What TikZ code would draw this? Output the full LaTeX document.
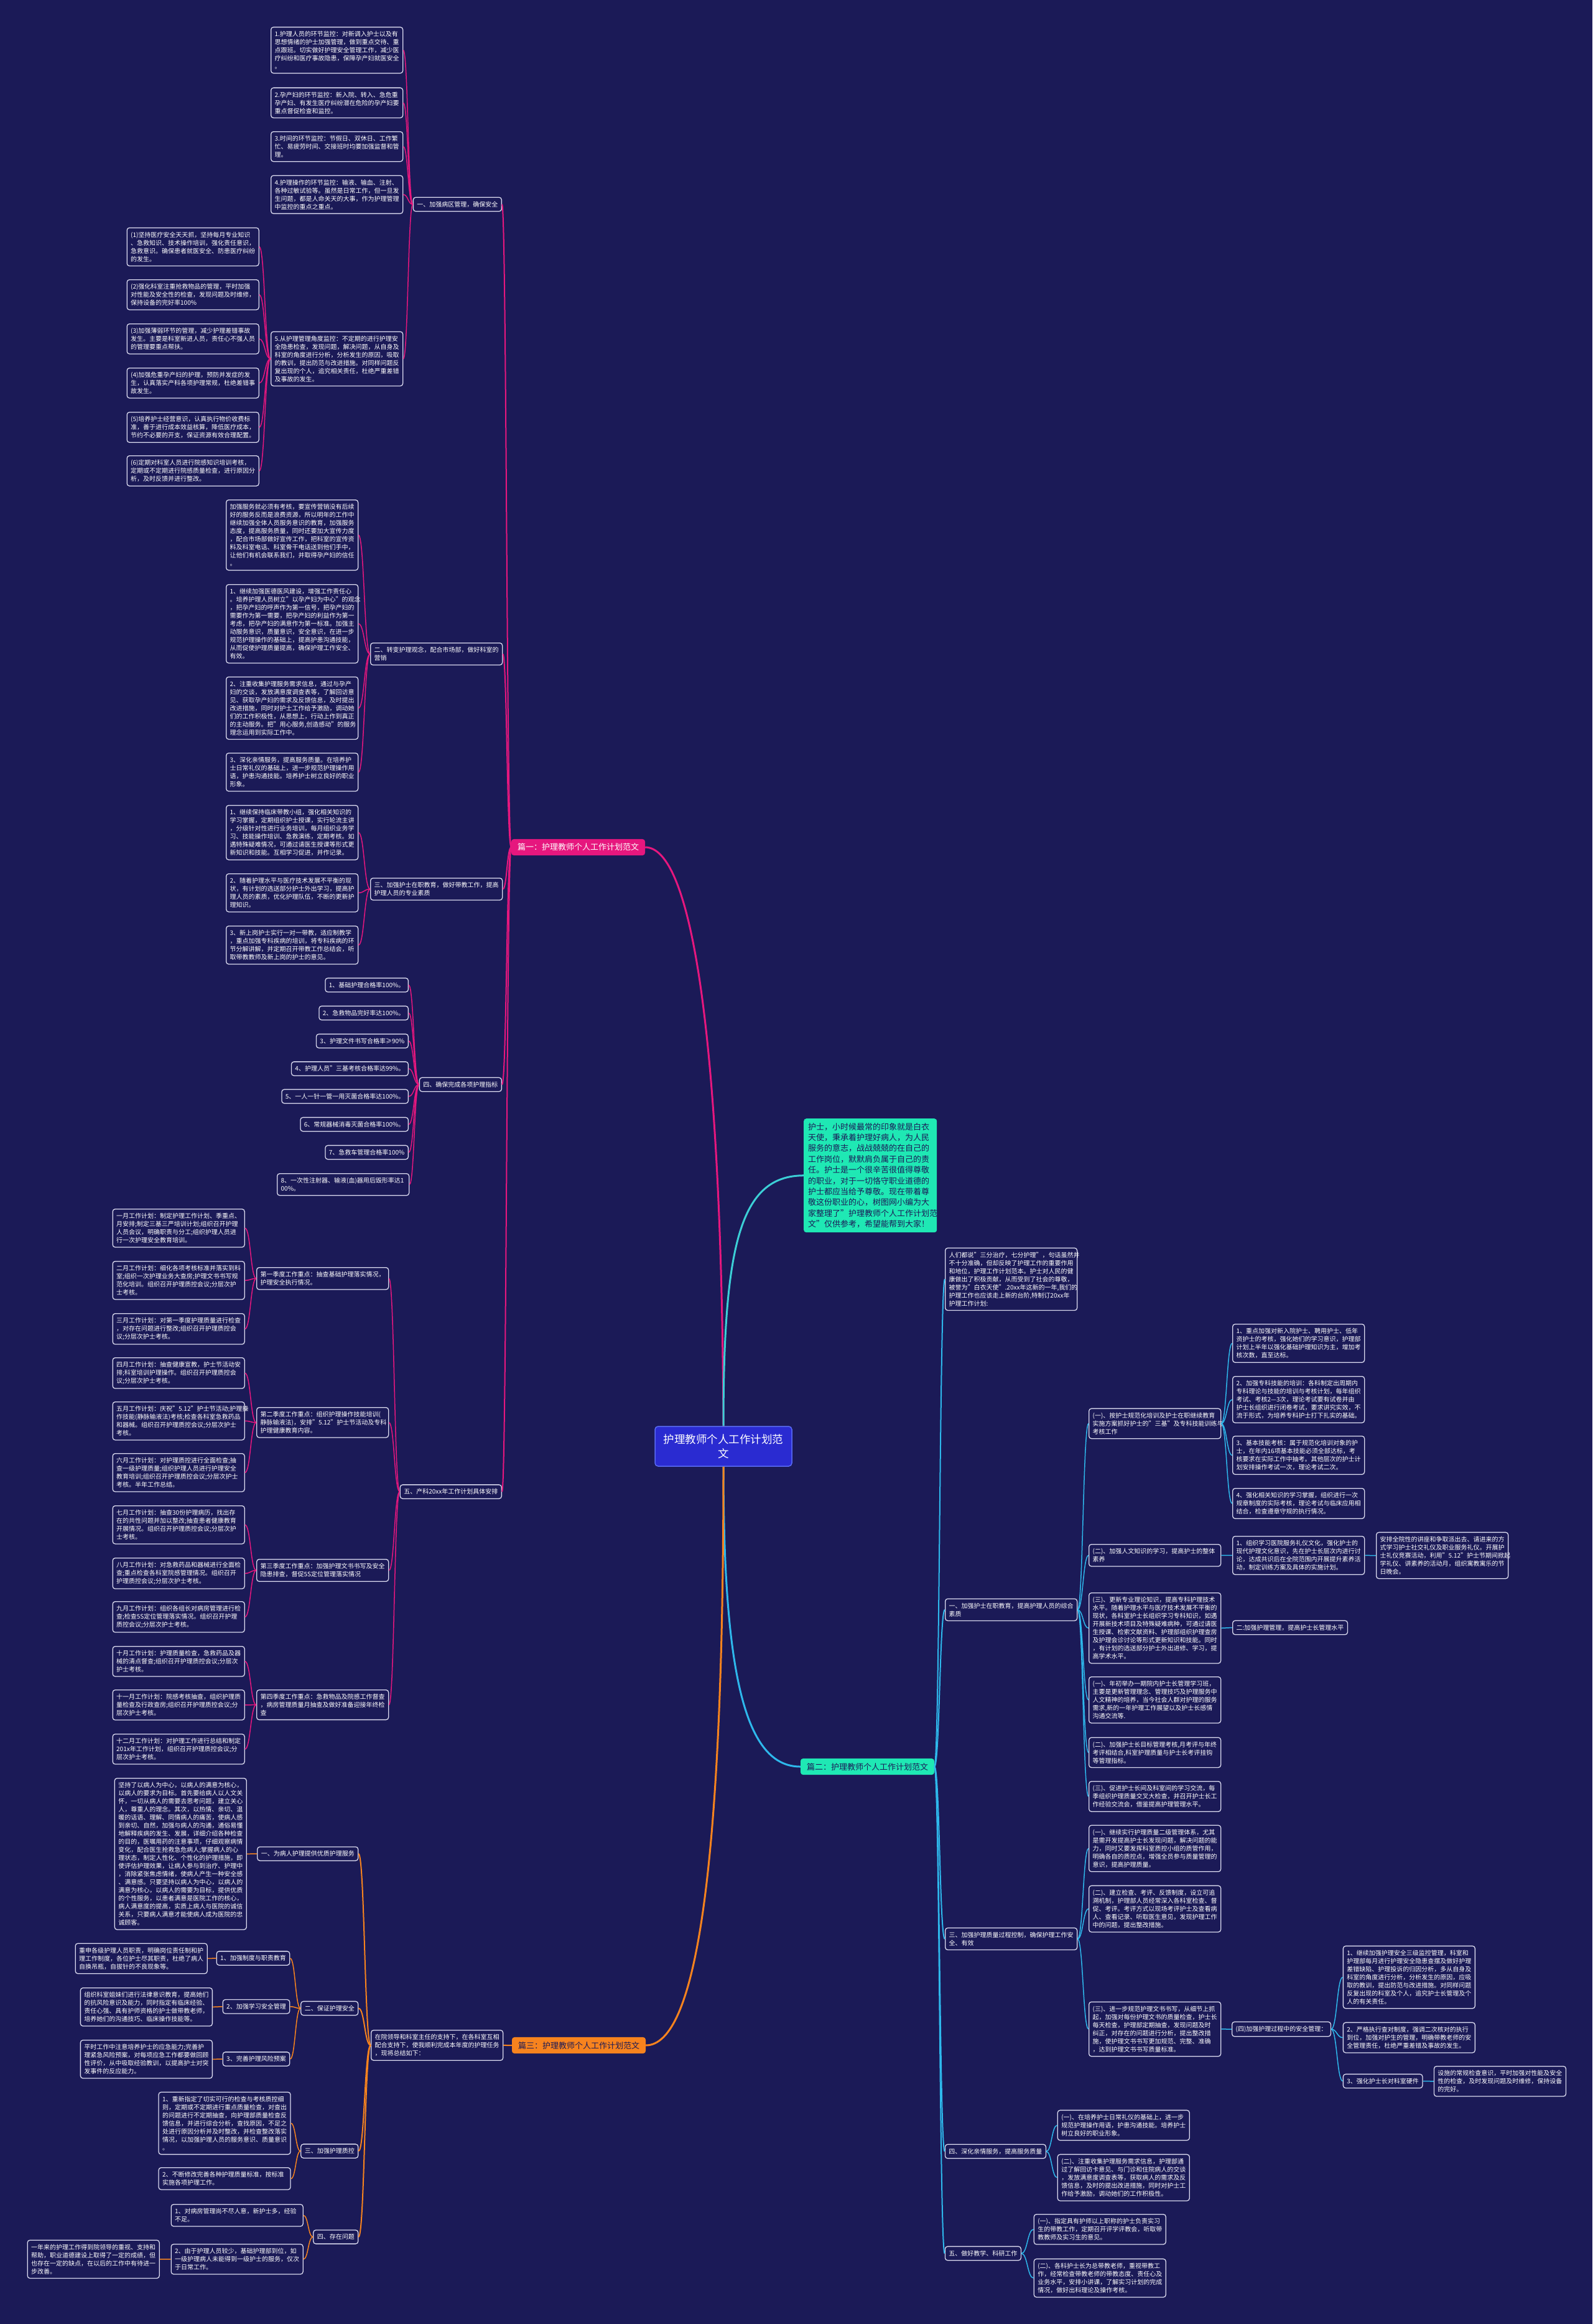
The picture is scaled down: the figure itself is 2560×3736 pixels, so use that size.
\documentclass[tikz,border=0pt]{standalone}
\usepackage{fontspec}
\setmainfont{Noto Sans CJK SC}
\usetikzlibrary{calc}

\definecolor{bg}{HTML}{1B1A57}
\definecolor{boxline}{HTML}{D9D9EE}
\definecolor{pinkc}{HTML}{E6177E}
\definecolor{cyanc}{HTML}{2EB8EC}
\definecolor{tealc}{HTML}{3CCFD6}
\definecolor{tealfill}{HTML}{1FE8B4}
\definecolor{orangec}{HTML}{F7831E}
\definecolor{rootfill}{HTML}{2A2BD1}
\definecolor{rootline}{HTML}{5B6CF5}

\begin{document}
\begin{tikzpicture}[
    x=1pt, y=-1pt,
    lnk/.style={to path={let \p1=(\tikztostart), \p2=(\tikztotarget) in
        .. controls ({(\x1+\x2)/2},\y1) and ({(\x1+\x2)/2},\y2) .. (\tikztotarget)}},
    box/.style={draw=boxline, line width=1.3pt, rounded corners=4pt, fill=bg, text=white,
        font=\fontsize{10}{13}\selectfont, inner xsep=6pt, inner ysep=6.5pt,
        align=left, text width=200pt, anchor=north west},
    tag/.style={draw=boxline, line width=1.3pt, rounded corners=4pt, fill=bg, text=white,
        font=\fontsize{10}{13}\selectfont, inner xsep=6pt, inner ysep=6.5pt},
    part/.style={rounded corners=4pt, font=\fontsize{13}{15}\selectfont, inner xsep=10pt, inner ysep=7pt},
    pinkln/.style={draw=pinkc, line width=1.5pt, lnk},
    cyanln/.style={draw=cyanc, line width=1.5pt, lnk},
    orangeln/.style={draw=orangec, line width=1.5pt, lnk},
]

    % page
    \fill[bg] (0,0) rectangle (2560,3736);
    \useasboundingbox (0,0) rectangle (2560,3736);

    % Root and intro
    \node[draw=rootline, line width=1.5pt, fill=rootfill, rounded corners=5pt, text=white,
        font=\fontsize{17.5}{23}\selectfont, align=center, minimum width=220pt, minimum height=64pt]
        (root) at (1163,2325) {护理教师个人工作计划范\\文};
    \node[fill=tealfill, rounded corners=4pt, text=bg, font=\fontsize{13}{17.4}\selectfont,
        align=left, text width=200pt, inner xsep=7pt, inner ysep=7pt, anchor=north west]
        (intro1) at (1292,1798) {护士，小时候最常的印象就是白衣\\天使，秉承着护理好病人，为人民\\服务的意志，战战兢兢的在自己的\\工作岗位，默默肩负属于自己的责\\任。护士是一个很辛苦很值得尊敬\\的职业，对于一切恪守职业道德的\\护士都应当给予尊敬。现在带着尊\\敬这份职业的心，树图网小编为大\\家整理了"护理教师个人工作计划范\\文"仅供参考，希望能帮到大家！};

    \node[part, fill=pinkc, text=white] (part1) at (929.5,1362) {篇一：护理教师个人工作计划范文};
    \node[part, fill=tealfill, text=bg] (part2) at (1394.5,2840) {篇二：护理教师个人工作计划范文};
    \node[part, fill=orangec, text=bg] (part3) at (930.5,3288) {篇三：护理教师个人工作计划范文};

    % Part 1, section one
    \node[tag, anchor=east] (sec1) at (807,328.5) {一、加强病区管理，确保安全};
    \node[box] (s1a) at (435,43) {1.护理人员的环节监控：对新调入护士以及有\\思想情绪的护士加强管理，做到重点交待、重\\点跟班。切实做好护理安全管理工作，减少医\\疗纠纷和医疗事故隐患，保障孕产妇就医安全\\。};
    \node[box] (s1b) at (435,140.5) {2.孕产妇的环节监控：新入院、转入、急危重\\孕产妇、有发生医疗纠纷潜在危险的孕产妇要\\重点督促检查和监控。};
    \node[box] (s1c) at (435,211) {3.时间的环节监控：节假日、双休日、工作繁\\忙、易疲劳时间、交接班时均要加强监督和管\\理。};
    \node[box] (s1d) at (435,281.5) {4.护理操作的环节监控：输液、输血、注射、\\各种过敏试验等。虽然是日常工作，但一旦发\\生问题，都是人命关天的大事，作为护理管理\\中监控的重点之重点。};
    \node[box] (s1e) at (435,532.5) {5.从护理管理角度监控：不定期的进行护理安\\全隐患检查，发现问题，解决问题，从自身及\\科室的角度进行分析，分析发生的原因，吸取\\的教训，提出防范与改进措施。对同样问题反\\复出现的个人，追究相关责任，杜绝严重差错\\及事故的发生。};
    \node[box] (s1e1) at (203.5,365.5) {(1)坚持医疗安全天天抓，坚持每月专业知识\\、急救知识、技术操作培训，强化责任意识，\\急救意识。确保患者就医安全、防患医疗纠纷\\的发生。};
    \node[box] (s1e2) at (203.5,449) {(2)强化科室注重抢救物品的管理，平时加强\\对性能及安全性的检查，发现问题及时维修，\\保持设备的完好率100\%};
    \node[box] (s1e3) at (203.5,520) {(3)加强薄弱环节的管理，减少护理差错事故\\发生。主要是科室新进人员，责任心不强人员\\的管理要重点帮扶。};
    \node[box] (s1e4) at (203.5,591) {(4)加强危重孕产妇的护理，预防并发症的发\\生，认真落实产科各项护理常规，杜绝差错事\\故发生。};
    \node[box] (s1e5) at (203.5,662) {(5)培养护士经营意识，认真执行物价收费标\\准，善于进行成本效益核算，降低医疗成本，\\节约不必要的开支，保证资源有效合理配置。};
    \node[box] (s1e6) at (203.5,732) {(6)定期对科室人员进行院感知识培训考核，\\定期或不定期进行院感质量检查，进行原因分\\析，及时反馈并进行整改。};

    % Part 1, section two
    \node[box] (sec2) at (595,1033) {二、转变护理观念，配合市场部，做好科室的\\营销};
    \node[box] (s2a) at (363,803) {加强服务就必须有考核，要宣传营销没有后续\\好的服务反而是浪费资源，所以明年的工作中\\继续加强全体人员服务意识的教育，加强服务\\态度，提高服务质量，同时还要加大宣传力度\\，配合市场部做好宣传工作，把科室的宣传资\\料及科室电话、科室骨干电话送到他们手中，\\让他们有机会联系我们，并取得孕产妇的信任\\。};
    \node[box] (s2b) at (363,939) {1、继续加强医德医风建设，增强工作责任心\\。培养护理人员树立"以孕产妇为中心"的观念\\，把孕产妇的呼声作为第一信号，把孕产妇的\\需要作为第一需要，把孕产妇的利益作为第一\\考虑，把孕产妇的满意作为第一标准。加强主\\动服务意识，质量意识，安全意识，在进一步\\规范护理操作的基础上，提高护患沟通技能，\\从而促使护理质量提高，确保护理工作安全、\\有效。};
    \node[box] (s2c) at (363,1087.5) {2、注重收集护理服务需求信息，通过与孕产\\妇的交谈，发放满意度调查表等，了解回访意\\见、获取孕产妇的需求及反馈信息，及时提出\\改进措施，同时对护士工作给予激励，调动她\\们的工作积极性，从思想上，行动上作到真正\\的主动服务。把"用心服务,创造感动"的服务\\理念运用到实际工作中。};
    \node[box] (s2d) at (363,1210) {3、深化亲情服务，提高服务质量。在培养护\\士日常礼仪的基础上，进一步规范护理操作用\\语，护患沟通技能。培养护士树立良好的职业\\形象。};

    % Part 1, section three
    \node[box] (sec3) at (595,1411) {三、加强护士在职教育，做好带教工作，提高\\护理人员的专业素质};
    \node[box] (s3a) at (363,1294) {1、继续保持临床带教小组，强化相关知识的\\学习掌握，定期组织护士授课，实行轮流主讲\\，分级针对性进行业务培训，每月组织业务学\\习、技能操作培训、急救演练，定期考核。如\\遇特殊疑难情况，可通过请医生授课等形式更\\新知识和技能。互相学习促进，并作记录。};
    \node[box] (s3b) at (363,1404) {2、随着护理水平与医疗技术发展不平衡的现\\状，有计划的选送部分护士外出学习，提高护\\理人员的素质，优化护理队伍，不断的更新护\\理知识。};
    \node[box] (s3c) at (363,1488) {3、新上岗护士实行一对一带教，适应制教学\\，重点加强专科疾病的培训，将专科疾病的环\\节分解讲解，并定期召开带教工作总结会，听\\取带教教师及新上岗的护士的意见。};

    % Part 1, section four
    \node[tag, anchor=east] (sec4) at (807,1743.5) {四、确保完成各项护理指标};
    \node[tag, anchor=east] (s4a) at (657,1583.5) {1、基础护理合格率100\%。};
    \node[tag, anchor=east] (s4b) at (657,1628.5) {2、急救物品完好率达100\%。};
    \node[tag, anchor=east] (s4c) at (657,1673.5) {3、护理文件书写合格率≥90\%};
    \node[tag, anchor=east] (s4d) at (657,1718) {4、护理人员"三基考核合格率达99\%。};
    \node[tag, anchor=east] (s4e) at (657,1762.5) {5、一人一针一管一用灭菌合格率达100\%。};
    \node[tag, anchor=east] (s4f) at (657,1807.5) {6、常规器械消毒灭菌合格率100\%。};
    \node[tag, anchor=east] (s4g) at (657,1852.5) {7、急救车管理合格率100\%};
    \node[box] (s4h) at (445,1886) {8、一次性注射器、输液(血)器用后毁形率达1\\00\%。};

    % Part 1, section five
    \node[tag, anchor=east] (sec5) at (807,2398) {五、产科20xx年工作计划具体安排};
    \node[box] (q1) at (412,2037) {第一季度工作重点：抽查基础护理落实情况，\\护理安全执行情况。};
    \node[box] (q2) at (412,2262) {第二季度工作重点：组织护理操作技能培训(\\静脉输液法)，安排"5.12"护士节活动及专科\\护理健康教育内容。};
    \node[box] (q3) at (412,2506) {第三季度工作重点：加强护理文书书写及安全\\隐患排查，督促5S定位管理落实情况};
    \node[box] (q4) at (412,2716) {第四季度工作重点：急救物品及院感工作督查\\，病房管理质量月抽查及做好准备迎接年终检\\查};
    \node[box] (m1) at (180.5,1943) {一月工作计划：制定护理工作计划、季重点、\\月安排;制定三基三严培训计划;组织召开护理\\人员会议，明确职责与分工;组织护理人员进\\行一次护理安全教育培训。};
    \node[box] (m2) at (180.5,2027) {二月工作计划：细化各项考核标准并落实到科\\室;组织一次护理业务大查房;护理文书书写规\\范化培训。组织召开护理质控会议;分层次护\\士考核。};
    \node[box] (m3) at (180.5,2111) {三月工作计划：对第一季度护理质量进行检查\\，对存在问题进行整改;组织召开护理质控会\\议;分层次护士考核。};
    \node[box] (m4) at (180.5,2182) {四月工作计划：抽查健康宣教，护士节活动安\\排;科室培训护理操作。组织召开护理质控会\\议;分层次护士考核。};
    \node[box] (m5) at (180.5,2253) {五月工作计划：庆祝"5.12"护士节活动;护理操\\作技能(静脉输液法)考核;检查各科室急救药品\\和器械。组织召开护理质控会议;分层次护士\\考核。};
    \node[box] (m6) at (180.5,2336) {六月工作计划：对护理质控进行全面检查;抽\\查一级护理质量;组织护理人员进行护理安全\\教育培训;组织召开护理质控会议;分层次护士\\考核。半年工作总结。};
    \node[box] (m7) at (180.5,2420) {七月工作计划：抽查30份护理病历，找出存\\在的共性问题并加以整改;抽查患者健康教育\\开展情况。组织召开护理质控会议;分层次护\\士考核。};
    \node[box] (m8) at (180.5,2504) {八月工作计划：对急救药品和器械进行全面检\\查;重点检查各科室院感管理情况。组织召开\\护理质控会议;分层次护士考核。};
    \node[box] (m9) at (180.5,2574) {九月工作计划：组织各组长对病房管理进行检\\查;检查5S定位管理落实情况。组织召开护理\\质控会议;分层次护士考核。};
    \node[box] (m10) at (180.5,2646) {十月工作计划：护理质量检查，急救药品及器\\械的清点督查;组织召开护理质控会议;分层次\\护士考核。};
    \node[box] (m11) at (180.5,2716) {十一月工作计划：院感考核抽查，组织护理质\\量检查及行政查房;组织召开护理质控会议;分\\层次护士考核。};
    \node[box] (m12) at (180.5,2787) {十二月工作计划：对护理工作进行总结和制定\\201x年工作计划，组织召开护理质控会议;分\\层次护士考核。};

    % Part 2
    \node[box] (intro2) at (1519,2005.6) {人们都说"三分治疗，七分护理"，句话虽然并\\不十分准确，但却反映了护理工作的重要作用\\和地位，护理工作计划范本。护士对人民的健\\康做出了积极贡献，从而受到了社会的尊敬，\\被誉为"白衣天使".20xx年这新的一年,我们的\\护理工作也应该走上新的台阶,特制订20xx年\\护理工作计划:};
    \node[box] (t1) at (1519,2569.5) {一、加强护士在职教育，提高护理人员的综合\\素质};
    \node[box] (t1a) at (1750,2263.7) {(一)、按护士规范化培训及护士在职继续教育\\实施方案抓好护士的"三基"及专科技能训练与\\考核工作};
    \node[box] (t1a1) at (1981,2128) {1、重点加强对新入院护士、聘用护士、低年\\资护士的考核，强化她们的学习意识，护理部\\计划上半年以强化基础护理知识为主，增加考\\核次数，直至达标。};
    \node[box] (t1a2) at (1981,2212) {2、加强专科技能的培训：各科制定出周期内\\专科理论与技能的培训与考核计划，每年组织\\考试、考核2—3次，理论考试要有试卷并由\\护士长组织进行闭卷考试，要求讲究实效，不\\流于形式，为培养专科护士打下扎实的基础。};
    \node[box] (t1a3) at (1981,2308) {3、基本技能考核：属于规范化培训对象的护\\士，在年内16项基本技能必须全部达标，考\\核要求在实际工作中抽考。其他层次的护士计\\划安排操作考试一次，理论考试二次。};
    \node[box] (t1a4) at (1981,2392) {4、强化相关知识的学习掌握，组织进行一次\\规章制度的实际考核，理论考试与临床应用相\\结合，检查遵章守规的执行情况。};
    \node[box] (t1b) at (1750,2482) {(二)、加强人文知识的学习，提高护士的整体\\素养};
    \node[box] (t1b1) at (1981,2469) {1、组织学习医院服务礼仪文化，强化护士的\\现代护理文化意识，先在护士长层次内进行讨\\论，达成共识后在全院范围内开展提升素养活\\动，制定训练方案及具体的实施计划。};
    \node[box] (t1b1x) at (2212,2462.7) {安排全院性的讲座和争取派出去、请进来的方\\式学习护士社交礼仪及职业服务礼仪。开展护\\士礼仪竞赛活动，利用"5.12"护士节期间掀起\\学礼仪、讲素养的活动月，组织寓教寓乐的节\\日晚会。};
    \node[box] (t1c) at (1750,2560) {(三)、更新专业理论知识，提高专科护理技术\\水平。随着护理水平与医疗技术发展不平衡的\\现状，各科室护士长组织学习专科知识，如遇\\开展新技术项目及特殊疑难病种，可通过请医\\生授课、检索文献资料、护理部组织护理查房\\及护理会诊讨论等形式更新知识和技能。同时\\，有计划的选送部分护士外出进修、学习，提\\高学术水平。};
    \node[tag, anchor=west] (t1c1) at (1981,2616.5) {二:加强护理管理，提高护士长管理水平};
    \node[box] (t1d) at (1750,2695) {(一)、年初举办一期院内护士长管理学习班，\\主要是更新管理理念、管理技巧及护理服务中\\人文精神的培养，当今社会人群对护理的服务\\需求,新的一年护理工作展望以及护士长感情\\沟通交流等.};
    \node[box] (t1e) at (1750,2792.5) {(二)、加强护士长目标管理考核,月考评与年终\\考评相结合,科室护理质量与护士长考评挂钩\\等管理指标。};
    \node[box] (t1f) at (1750,2863) {(三)、促进护士长间及科室间的学习交流，每\\季组织护理质量交叉大检查，并召开护士长工\\作经验交流会，借鉴提高护理管理水平。};

    \node[box] (t3) at (1519,3098.6) {三、加强护理质量过程控制，确保护理工作安\\全、有效};
    \node[box] (t3a) at (1750,2933.6) {(一)、继续实行护理质量二级管理体系，尤其\\是需开发提高护士长发现问题，解决问题的能\\力，同时又要发挥科室质控小组的质管作用，\\明确各自的质控点，增强全员参与质量管理的\\意识，提高护理质量。};
    \node[box] (t3b) at (1750,3030.7) {(二)、建立检查、考评、反馈制度，设立可追\\溯机制，护理部人员经常深入各科室检查、督\\促、考评。考评方式以现场考评护士及查看病\\人、查看记录、听取医生意见，发现护理工作\\中的问题，提出整改措施。};
    \node[box] (t3c) at (1750,3217.5) {(三)、进一步规范护理文书书写，从细节上抓\\起，加强对每份护理文书的质量检查，护士长\\每天检查，护理部定期抽查，发现问题及时\\纠正，对存在的问题进行分析，提出整改措\\施，使护理文书书写更加规范、完整、准确\\，达到护理文书书写质量标准。};
    \node[tag, anchor=west] (t3c1) at (1980,3262) {(四)加强护理过程中的安全管理：};
    \node[box] (t3c1a) at (2158.7,3127.7) {1、继续加强护理安全三级监控管理，科室和\\护理部每月进行护理安全隐患查摆及做好护理\\差错缺陷、护理投诉的归因分析，多从自身及\\科室的角度进行分析，分析发生的原因，应吸\\取的教训，提出防范与改进措施。对同样问题\\反复出现的科室及个人，追究护士长管理及个\\人的有关责任。};
    \node[box] (t3c1b) at (2158.7,3250.7) {2、严格执行查对制度，强调二次核对的执行\\到位，加强对护生的管理，明确带教老师的安\\全管理责任，杜绝严重差错及事故的发生。};
    \node[tag, anchor=west] (t3c1c) at (2158.7,3345.5) {3、强化护士长对科室硬件};
    \node[box] (t3c1cx) at (2304.8,3321) {设施的常规检查意识，平时加强对性能及安全\\性的检查，及时发现问题及时维修，保持设备\\的完好。};

    \node[tag, anchor=west] (t4) at (1518.75,3458.5) {四、深化亲情服务，提高服务质量};
    \node[box] (t4a) at (1699.6,3391.7) {(一)、在培养护士日常礼仪的基础上，进一步\\规范护理操作用语，护患沟通技能。培养护士\\树立良好的职业形象。};
    \node[box] (t4b) at (1699.6,3462.7) {(二)、注重收集护理服务需求信息，护理部通\\过了解回访卡意见、与门诊和住院病人的交谈\\，发放满意度调查表等，获取病人的需求及反\\馈信息，及时的提出改进措施，同时对护士工\\作给予激励，调动她们的工作积极性。};
    \node[tag, anchor=west] (t5) at (1518.75,3622.5) {五、做好教学、科研工作};
    \node[box] (t5a) at (1661.6,3559) {(一)、指定具有护师以上职称的护士负责实习\\生的带教工作，定期召开评学评教会，听取带\\教教师及实习生的意见。};
    \node[box] (t5b) at (1661.6,3630.7) {(二)、各科护士长为总带教老师，重视带教工\\作，经常检查带教老师的带教态度、责任心及\\业务水平，安排小讲课，了解实习计划的完成\\情况，做好出科理论及操作考核。};

    % Part 3
    \node[box] (sum3) at (596,3263) {在院领导和科室主任的支持下，在各科室互相\\配合支持下，使我顺利完成本年度的护理任务\\，现将总结如下：};
    \node[tag, anchor=east] (u1) at (576.4,2980) {一、为病人护理提供优质护理服务};
    \node[box] (u1a) at (183.6,2858) {坚持了以病人为中心，以病人的满意为核心，\\以病人的要求为目标。首先要给病人以人文关\\怀，一切从病人的需要去思考问题，建立关心\\人，尊重人的理念。其次，以热情、亲切、温\\暖的话语、理解、同情病人的痛苦，使病人感\\到亲切、自然，加强与病人的沟通，通俗易懂\\地解释疾病的发生、发展，详细介绍各种检查\\的目的，医嘱用药的注意事项，仔细观察病情\\变化，配合医生抢救急危病人;掌握病人的心\\理状态，制定人性化、个性化的护理措施，即\\使评估护理效果，让病人参与到治疗、护理中\\，消除紧张焦虑情绪，使病人产生一种安全感\\、满意感。只要坚持以病人为中心，以病人的\\满意为核心，以病人的需要为目标，提供优质\\的个性服务，以患者满意是医院工作的核心，\\病人满意度的提高，实质上病人与医院的诚信\\关系，只要病人满意才能使病人成为医院的忠\\诚顾客。};
    \node[tag, anchor=east] (u2) at (576.4,3228.5) {二、保证护理安全};
    \node[tag, anchor=east] (u2a) at (466.4,3148) {1、加强制度与职责教育};
    \node[box] (u2ax) at (120.5,3123.5) {重申各级护理人员职责，明确岗位责任制和护\\理工作制度，各位护士尽其职责，杜绝了病人\\自换吊瓶，自拔针的不良现象等。};
    \node[tag, anchor=east] (u2b) at (466.4,3225.7) {2、加强学习安全管理};
    \node[box] (u2bx) at (128.7,3195) {组织科室姐妹们进行法律意识教育，提高她们\\的抗风险意识及能力，同时指定有临床经验、\\责任心强、具有护师资格的护士做带教老师，\\培养她们的沟通技巧、临床操作技能等。};
    \node[tag, anchor=east] (u2c) at (466.4,3310) {3、完善护理风险预案};
    \node[box] (u2cx) at (128.7,3279) {平时工作中注意培养护士的应急能力;完善护\\理紧急风险预案，对每项应急工作都要做回顾\\性评价，从中吸取经验教训，以提高护士对突\\发事件的反应能力。};
    \node[tag, anchor=east] (u3) at (576.4,3458) {三、加强护理质控};
    \node[box] (u3a) at (254.4,3362.6) {1、重新指定了切实可行的检查与考核质控细\\则，定期或不定期进行重点质量检查，对查出\\的问题进行不定期抽查，向护理部质量检查反\\馈信息，并进行综合分析，查找原因，不足之\\处进行原因分析并及时整改，并检查整改落实\\情况，以加强护理人员的服务意识、质量意识\\。};
    \node[box] (u3b) at (254.4,3484) {2、不断修改完善各种护理质量标准，按标准\\实施各项护理工作。};
    \node[tag, anchor=east] (u4) at (576.4,3596) {四、存在问题};
    \node[box] (u4a) at (274.5,3543) {1、对病房管理尚不尽人意，新护士多，经验\\不足。};
    \node[box] (u4b) at (274.5,3607) {2、由于护理人员较少，基础护理部到位，如\\一级护理病人未能得到一级护士的服务，仅次\\于日常工作。};
    \node[box] (u4bx) at (43.5,3600.5) {一年来的护理工作得到院领导的重视、支持和\\帮助，职业道德建设上取得了一定的成绩，但\\也存在一定的缺点，在以后的工作中有待进一\\步改善。};

    % Root connectors
    \draw[pinkc, line width=3pt] (root.north) .. controls (1160,1650) and (1110,1362) .. (part1.east);
    \draw[tealc, line width=3pt] (root.north) .. controls (1163,2000) and (1190,1890) .. (intro1.west);
    \draw[cyanc, line width=3pt] (root.south) .. controls (1163,2700) and (1200,2840) .. (part2.west);
    \draw[orangec, line width=3pt] (root.south) .. controls (1163,3000) and (1120,3288) .. (part3.east);

    % Part 1 connectors
    \draw[pinkln, line width=2pt] (part1.west) to (sec1.east);
    \draw[pinkln, line width=2pt] (part1.west) to (sec2.east);
    \draw[pinkln, line width=2pt] (part1.west) to (sec3.east);
    \draw[pinkln, line width=2pt] (part1.west) to (sec4.east);
    \draw[pinkln, line width=2pt] (part1.west) to (sec5.east);
    \draw[pinkln] (sec1.west) to (s1a.east);
    \draw[pinkln] (sec1.west) to (s1b.east);
    \draw[pinkln] (sec1.west) to (s1c.east);
    \draw[pinkln] (sec1.west) to (s1d.east);
    \draw[pinkln] (sec1.west) to (s1e.east);
    \draw[pinkln] (s1e.west) to (s1e1.east);
    \draw[pinkln] (s1e.west) to (s1e2.east);
    \draw[pinkln] (s1e.west) to (s1e3.east);
    \draw[pinkln] (s1e.west) to (s1e4.east);
    \draw[pinkln] (s1e.west) to (s1e5.east);
    \draw[pinkln] (s1e.west) to (s1e6.east);
    \draw[pinkln] (sec2.west) to (s2a.east);
    \draw[pinkln] (sec2.west) to (s2b.east);
    \draw[pinkln] (sec2.west) to (s2c.east);
    \draw[pinkln] (sec2.west) to (s2d.east);
    \draw[pinkln] (sec3.west) to (s3a.east);
    \draw[pinkln] (sec3.west) to (s3b.east);
    \draw[pinkln] (sec3.west) to (s3c.east);
    \draw[pinkln] (sec4.west) to (s4a.east);
    \draw[pinkln] (sec4.west) to (s4b.east);
    \draw[pinkln] (sec4.west) to (s4c.east);
    \draw[pinkln] (sec4.west) to (s4d.east);
    \draw[pinkln] (sec4.west) to (s4e.east);
    \draw[pinkln] (sec4.west) to (s4f.east);
    \draw[pinkln] (sec4.west) to (s4g.east);
    \draw[pinkln] (sec4.west) to (s4h.east);
    \draw[pinkln] (sec5.west) to (q1.east);
    \draw[pinkln] (sec5.west) to (q2.east);
    \draw[pinkln] (sec5.west) to (q3.east);
    \draw[pinkln] (sec5.west) to (q4.east);
    \draw[pinkln] (q1.west) to (m1.east);
    \draw[pinkln] (q1.west) to (m2.east);
    \draw[pinkln] (q1.west) to (m3.east);
    \draw[pinkln] (q2.west) to (m4.east);
    \draw[pinkln] (q2.west) to (m5.east);
    \draw[pinkln] (q2.west) to (m6.east);
    \draw[pinkln] (q3.west) to (m7.east);
    \draw[pinkln] (q3.west) to (m8.east);
    \draw[pinkln] (q3.west) to (m9.east);
    \draw[pinkln] (q4.west) to (m10.east);
    \draw[pinkln] (q4.west) to (m11.east);
    \draw[pinkln] (q4.west) to (m12.east);

    % Part 2 connectors
    \draw[cyanln, line width=2pt] (part2.east) to (intro2.west);
    \draw[cyanln, line width=2pt] (part2.east) to (t1.west);
    \draw[cyanln, line width=2pt] (part2.east) to (t3.west);
    \draw[cyanln, line width=2pt] (part2.east) to (t4.west);
    \draw[cyanln, line width=2pt] (part2.east) to (t5.west);
    \draw[cyanln] (t1.east) to (t1a.west);
    \draw[cyanln] (t1.east) to (t1b.west);
    \draw[cyanln] (t1.east) to (t1c.west);
    \draw[cyanln] (t1.east) to (t1d.west);
    \draw[cyanln] (t1.east) to (t1e.west);
    \draw[cyanln] (t1.east) to (t1f.west);
    \draw[cyanln] (t1a.east) to (t1a1.west);
    \draw[cyanln] (t1a.east) to (t1a2.west);
    \draw[cyanln] (t1a.east) to (t1a3.west);
    \draw[cyanln] (t1a.east) to (t1a4.west);
    \draw[cyanln] (t1b.east) to (t1b1.west);
    \draw[cyanln] (t1b1.east) to (t1b1x.west);
    \draw[cyanln] (t1c.east) to (t1c1.west);
    \draw[cyanln] (t3.east) to (t3a.west);
    \draw[cyanln] (t3.east) to (t3b.west);
    \draw[cyanln] (t3.east) to (t3c.west);
    \draw[cyanln] (t3c.east) to (t3c1.west);
    \draw[cyanln] (t3c1.east) to (t3c1a.west);
    \draw[cyanln] (t3c1.east) to (t3c1b.west);
    \draw[cyanln] (t3c1.east) to (t3c1c.west);
    \draw[cyanln] (t3c1c.east) to (t3c1cx.west);
    \draw[cyanln] (t4.east) to (t4a.west);
    \draw[cyanln] (t4.east) to (t4b.west);
    \draw[cyanln] (t5.east) to (t5a.west);
    \draw[cyanln] (t5.east) to (t5b.west);

    % Part 3 connectors
    \draw[orangeln, line width=2pt] (part3.west) to (sum3.east);
    \draw[orangeln, line width=2pt] (sum3.west) to (u1.east);
    \draw[orangeln, line width=2pt] (sum3.west) to (u2.east);
    \draw[orangeln, line width=2pt] (sum3.west) to (u3.east);
    \draw[orangeln, line width=2pt] (sum3.west) to (u4.east);
    \draw[orangeln] (u1.west) to (u1a.east);
    \draw[orangeln] (u2.west) to (u2a.east);
    \draw[orangeln] (u2.west) to (u2b.east);
    \draw[orangeln] (u2.west) to (u2c.east);
    \draw[orangeln] (u2a.west) to (u2ax.east);
    \draw[orangeln] (u2b.west) to (u2bx.east);
    \draw[orangeln] (u2c.west) to (u2cx.east);
    \draw[orangeln] (u3.west) to (u3a.east);
    \draw[orangeln] (u3.west) to (u3b.east);
    \draw[orangeln] (u4.west) to (u4a.east);
    \draw[orangeln] (u4.west) to (u4b.east);
    \draw[orangeln] (u4b.west) to (u4bx.east);

\end{tikzpicture}
\end{document}
